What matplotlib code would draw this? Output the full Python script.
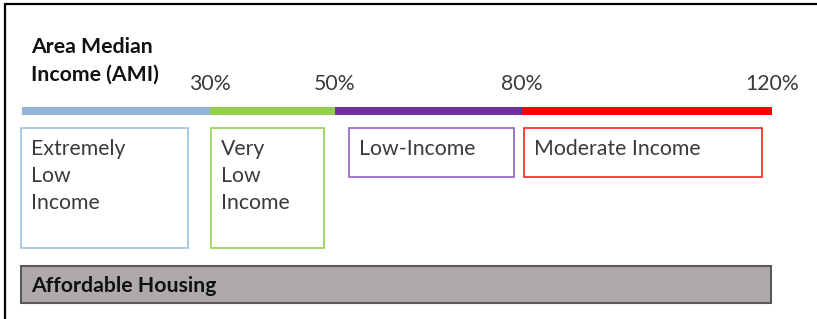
import matplotlib.pyplot as plt
from matplotlib.patches import Rectangle

plt.rcParams['font.family'] = ['Lato', 'DejaVu Sans']

# AMI thresholds in percent, one band between each pair
breaks = [0, 30, 50, 80, 120]
tick_labels = ['30%', '50%', '80%', '120%']
band_names = ['Extremely\nLow\nIncome', 'Very\nLow\nIncome', 'Low-Income', 'Moderate Income']
band_colors = ['#95B3D7', '#92D050', '#7030A0', '#FF0000']
box_edges = ['#9DC3E6', '#92D050', '#9060C0', '#FF2020']
header = 'Area Median\nIncome (AMI)'
footer = 'Affordable Housing'

W, H = 817, 319
fig = plt.figure(figsize=(W / 100, H / 100), dpi=100)

# canvas in pixel units for frame, boxes and labels
cv = fig.add_axes([0, 0, 1, 1])
cv.set_xlim(0, W)
cv.set_ylim(H, 0)
cv.axis('off')

# outer frame (top + left only, rest is cropped)
cv.plot([4, W], [4, 4], color='black', lw=1.6, solid_capstyle='butt')
cv.plot([5, 5], [3, H], color='black', lw=1.6, solid_capstyle='butt')

# header text
for i, line in enumerate(header.split('\n')):
    cv.text(31, 53 + 28 * i, line, fontsize=15.3, fontweight='bold', color='#111111', va='baseline')

# coloured AMI scale bar
bx = fig.add_axes([22 / W, 1 - 115 / H, 750 / W, 8 / H])
lefts = breaks[:-1]
widths = [b - a for a, b in zip(breaks[:-1], breaks[1:])]
bx.barh(0, widths, left=lefts, height=1, color=band_colors)
bx.set_xlim(0, 120)
bx.set_ylim(-0.5, 0.5)
bx.xaxis.tick_top()
bx.set_xticks(breaks[1:], tick_labels)
bx.tick_params(axis='x', length=0, pad=9, labelsize=15.3, labelcolor='#3a3a3a')
bx.set_yticks([])
for s in bx.spines.values():
    s.set_visible(False)

# category boxes
box_x = [(21, 188), (211, 324), (349, 514), (524, 762)]
box_y = [(128, 248), (128, 248), (128, 177), (128, 177)]
for name, ec, (x0, x1), (y0, y1) in zip(band_names, box_edges, box_x, box_y):
    cv.add_patch(Rectangle((x0, y0), x1 - x0, y1 - y0, fill=False, ec=ec, lw=1.2))
    for i, line in enumerate(name.split('\n')):
        cv.text(x0 + 10, 155 + 27 * i, line, fontsize=15.3, color='#3a3a3a', va='baseline')

# affordable housing band
cv.add_patch(Rectangle((21, 266), 750, 37, fc='#AEAAAA', ec='#595959', lw=1.5))
cv.text(31, 292, footer, fontsize=15.3, fontweight='bold', color='#111111', va='baseline')

fig.savefig('out.png', dpi=100)
